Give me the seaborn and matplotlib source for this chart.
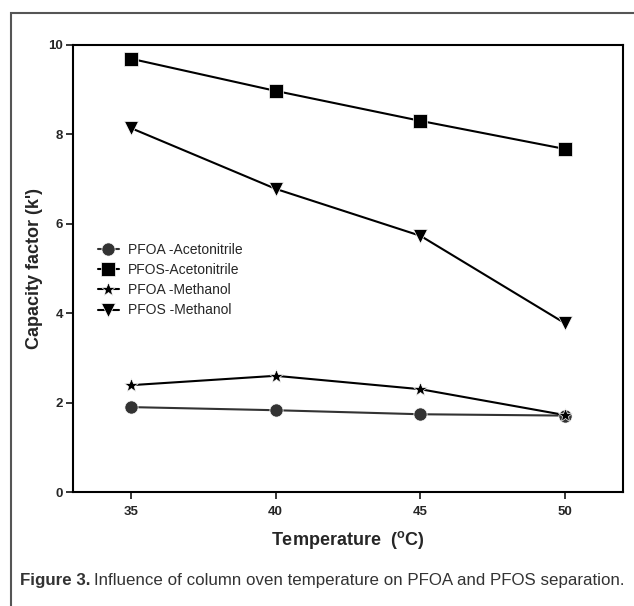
import pandas as pd
import numpy as np
import matplotlib
matplotlib.use('Agg')
import matplotlib.pyplot as plt
import seaborn as sns
from matplotlib.patches import Rectangle

# ── data ─────────────────────────────────────────────────────
temps = [35, 40, 45, 50]
pfoa_acn = [1.90, 1.83, 1.74, 1.71]
pfos_acn = [9.69, 8.97, 8.30, 7.67]
pfoa_meoh = [2.39, 2.60, 2.30, 1.72]
pfos_meoh = [8.14, 6.78, 5.73, 3.77]
series_names = ['PFOA -Acetonitrile', 'PFOS-Acetonitrile', 'PFOA -Methanol', 'PFOS -Methanol']

df = pd.DataFrame({
    'Temperature': temps * 4,
    'k': pfoa_acn + pfos_acn + pfoa_meoh + pfos_meoh,
    'series': np.repeat(series_names, len(temps)),
})

sns.set_style('ticks')
plt.rcParams['font.family'] = ['Liberation Sans', 'DejaVu Sans']
plt.rcParams['mathtext.fontset'] = 'custom'
plt.rcParams['mathtext.rm'] = 'Liberation Sans:bold'

palette = {'PFOA -Acetonitrile': '#333333', 'PFOS-Acetonitrile': 'black',
           'PFOA -Methanol': 'black', 'PFOS -Methanol': 'black'}
markers = {'PFOA -Acetonitrile': 'o', 'PFOS-Acetonitrile': 's',
           'PFOA -Methanol': '*', 'PFOS -Methanol': 'v'}

fig = plt.figure(figsize=(6.34, 6.06), dpi=100)
ax = fig.add_axes([0.115, 0.188, 0.868, 0.738])

sns.lineplot(data=df, x='Temperature', y='k', hue='series', style='series',
             palette=palette, markers=markers, dashes=False, ax=ax,
             linewidth=1.5, markersize=9.5, markeredgewidth=0.5, legend='full')

# star reads a little bigger in the original
for line in ax.lines:
    if line.get_marker() == '*':
        line.set_markersize(10.5)

ax.set_xlim(33, 52)
ax.set_ylim(0, 10)
ax.set_xticks(temps)
ax.set_yticks([0, 2, 4, 6, 8, 10])
for s in ax.spines.values():
    s.set_linewidth(1.5)
    s.set_color('black')
ax.tick_params(direction='out', length=5, width=1.3, labelsize=9.5, pad=2)
for lbl in ax.get_xticklabels() + ax.get_yticklabels():
    lbl.set_fontweight('bold')
ax.tick_params(axis='x', pad=5)

ax.set_xlabel('Temperature  ($^{\\mathrm{o}}$C)', fontsize=13, fontweight='bold', labelpad=8)
ax.set_ylabel("Capacity factor (k')", fontsize=13, fontweight='bold', labelpad=4)

handles, labels = ax.get_legend_handles_labels()
for h in handles:
    if h.get_marker() == '*':
        h.set_markersize(10)
ax.legend(handles, labels, loc='center left', bbox_to_anchor=(0.035, 0.474),
          frameon=False, fontsize=10, handlelength=1.5, handletextpad=0.7,
          labelspacing=0.45, borderaxespad=0)

# outer frame of the figure panel
fig.patches.append(Rectangle((11 / 634, -0.05), 1.1, (606 - 13) / 606 + 0.05,
                             transform=fig.transFigure, fill=False,
                             edgecolor='#555555', linewidth=1.5))

# caption: bold "Figure 3." then regular text, sized to fit the panel width
cap_y = (606 - 581) / 606
fs = 12
renderer = fig.canvas.get_renderer()
for _ in range(2):
    t1 = fig.text(20 / 634, cap_y, 'Figure 3.', fontsize=fs, fontweight='bold',
                  color='#333333', va='center', ha='left')
    w1 = t1.get_window_extent(renderer).width
    t2 = fig.text((20 + w1 + 3) / 634, cap_y,
                  'Influence of column oven temperature on PFOA and PFOS separation.',
                  fontsize=fs, color='#333333', va='center', ha='left')
    total = t2.get_window_extent(renderer).x1 - 20
    if abs(total - 604) < 2:
        break
    t1.remove(); t2.remove()
    fs = fs * 604 / total

plt.savefig('out.png', dpi=100)
